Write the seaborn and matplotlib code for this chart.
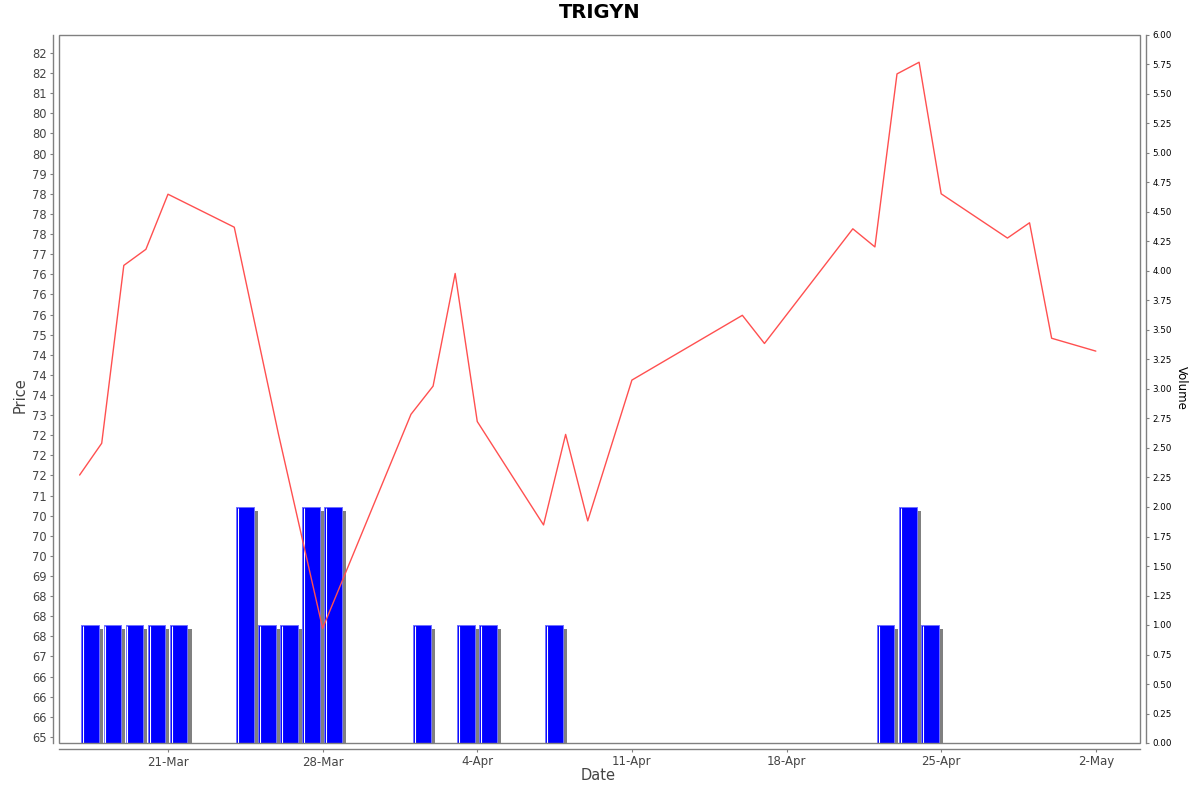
import numpy as np
import pandas as pd
import matplotlib
matplotlib.use("Agg")
import matplotlib.pyplot as plt
import matplotlib.dates as mdates
import matplotlib.patheffects as pe
from matplotlib.patches import Rectangle
import seaborn as sns

# ---------------- data ----------------
price_dates = ["2025-03-17", "2025-03-18", "2025-03-19", "2025-03-20", "2025-03-21",
               "2025-03-24", "2025-03-26", "2025-03-28",
               "2025-04-01", "2025-04-02", "2025-04-03", "2025-04-04",
               "2025-04-07", "2025-04-08", "2025-04-09", "2025-04-11",
               "2025-04-16", "2025-04-17",
               "2025-04-21", "2025-04-22", "2025-04-23", "2025-04-24", "2025-04-25",
               "2025-04-28", "2025-04-29", "2025-04-30", "2025-05-02"]
price_values = [71.51, 72.30, 76.72, 77.12, 78.49,
                77.67, 72.53, 67.70,
                73.02, 73.72, 76.52, 72.84,
                70.27, 72.52, 70.37, 73.87,
                75.48, 74.78,
                77.63, 77.18, 81.48, 81.77, 78.50,
                77.40, 77.78, 74.91, 74.59]

volume_dates = ["2025-03-17", "2025-03-18", "2025-03-19", "2025-03-20", "2025-03-21",
                "2025-03-24", "2025-03-25", "2025-03-26", "2025-03-27", "2025-03-28",
                "2025-04-01", "2025-04-03", "2025-04-04", "2025-04-07",
                "2025-04-22", "2025-04-23", "2025-04-24"]
volume_values = [1, 1, 1, 1, 1,
                 2, 1, 1, 2, 2,
                 1, 1, 1, 1,
                 1, 2, 1]

price_tick_values = list(np.arange(65.0, 82.01, 0.5))
price_tick_labels = ["65", "66", "66", "66", "67", "68", "68", "68", "69", "70",
                     "70", "70", "71", "72", "72", "72", "73", "74", "74", "74",
                     "75", "76", "76", "76", "77", "78", "78", "78", "79", "80",
                     "80", "80", "81", "82", "82"]
date_tick_values = ["2025-03-21", "2025-03-28", "2025-04-04", "2025-04-11",
                    "2025-04-18", "2025-04-25", "2025-05-02"]
date_tick_labels = ["21-Mar", "28-Mar", "4-Apr", "11-Apr", "18-Apr", "25-Apr", "2-May"]
volume_tick_values = list(np.arange(0.0, 6.001, 0.25))

title = "TRIGYN"

# ---------------- figure ----------------
sns.set_theme(style="white")
plt.rcParams["font.family"] = ["DejaVu Sans"]

W, H, DPI = 1200, 792, 100
fig = plt.figure(figsize=(W / DPI, H / DPI), dpi=DPI)
fig.patch.set_facecolor("white")

L, R, T, B = 59, 1140, 35, 743
ax = fig.add_axes([L / W, 1 - B / H, (R - L) / W, (B - T) / H])
ax2 = ax.twinx()
ax.set_zorder(ax2.get_zorder() + 1)
ax.patch.set_visible(False)
ax2.patch.set_facecolor("white")

df_price = pd.DataFrame({"date": pd.to_datetime(price_dates), "price": price_values})
df_vol = pd.DataFrame({"date": pd.to_datetime(volume_dates), "volume": volume_values})

# volume bars (secondary axis, drawn beneath the price line)
bar_left = df_vol["date"] + pd.Timedelta(hours=2)
bars = ax2.bar(bar_left, df_vol["volume"], width=0.8, align="edge",
               color="#0000ff", edgecolor="#7070ff", linewidth=0.7, zorder=2)
for b in bars:
    b.set_path_effects([pe.SimplePatchShadow(offset=(2.9, -2.9), shadow_rgbFace="#808080",
                                             alpha=1.0), pe.Normal()])
ax2.vlines(bar_left + pd.Timedelta(hours=2), 0, df_vol["volume"] - 0.01,
           color="white", linewidth=0.8, zorder=3)

# price line
sns.lineplot(data=df_price, x="date", y="price", ax=ax, color="#ff5050",
             linewidth=1.0, zorder=5)

# ---------------- axes setup ----------------
xmin = pd.Timestamp("2025-03-16 01:36")
xmax = pd.Timestamp("2025-05-04 00:00")
ax.set_xlim(xmin, xmax)
ax2.set_xlim(xmin, xmax)
ax.set_ylim(64.85, 82.447)
ax2.set_ylim(0, 6.0)

ax.set_yticks(price_tick_values)
ax.set_yticklabels(price_tick_labels)
ax.set_xticks(pd.to_datetime(date_tick_values))
ax.set_xticklabels(date_tick_labels)
ax2.set_yticks(volume_tick_values)
ax2.set_yticklabels(["%.2f" % v for v in volume_tick_values])

ax.set_xlabel("")
ax.set_ylabel("")
ax2.set_ylabel("")

gray = "#808080"
for a in (ax, ax2):
    for s in a.spines.values():
        s.set_visible(False)
        s.set_color(gray)
        s.set_linewidth(1.0)
ax.spines["left"].set_visible(True)
ax.spines["left"].set_position(("outward", 4))
ax.spines["bottom"].set_visible(True)
ax.spines["bottom"].set_position(("outward", 4))
ax2.spines["right"].set_visible(True)
ax2.spines["right"].set_position(("outward", 4))

ax.tick_params(axis="y", which="major", direction="out", length=2, width=0.8, color=gray,
               labelsize=8.3, labelcolor="#444444", pad=3, left=True, right=False)
ax.tick_params(axis="x", which="major", direction="out", length=2, width=0.8, color=gray,
               labelsize=8.5, labelcolor="#444444", pad=3, bottom=True, top=False)
ax2.tick_params(axis="y", which="major", direction="out", length=2, width=0.8, color=gray,
                labelsize=6.3, labelcolor="#000000", pad=3, right=True, left=False)
ax2.tick_params(axis="x", bottom=False, top=False, labelbottom=False)

# plot frame
ax2.add_patch(Rectangle((0, 0), 1, 1, transform=ax2.transAxes, fill=False,
                        edgecolor=gray, linewidth=1.0, zorder=10, clip_on=False))

# texts
fig.text(0.5, 1 - 13 / H, title, ha="center", va="center", fontsize=14,
         fontweight="bold", color="black")
fig.text(20 / W, 1 - 395 / H, "Price", ha="center", va="center", rotation=90,
         fontsize=10.5, color="#444444")
fig.text(598 / W, 1 - 776 / H, "Date", ha="center", va="center",
         fontsize=10.5, color="#444444")
fig.text(1181 / W, 1 - 388 / H, "Volume", ha="center", va="center", rotation=-90,
         fontsize=8.5, color="black")

fig.savefig("out.png", dpi=DPI, facecolor="white")
